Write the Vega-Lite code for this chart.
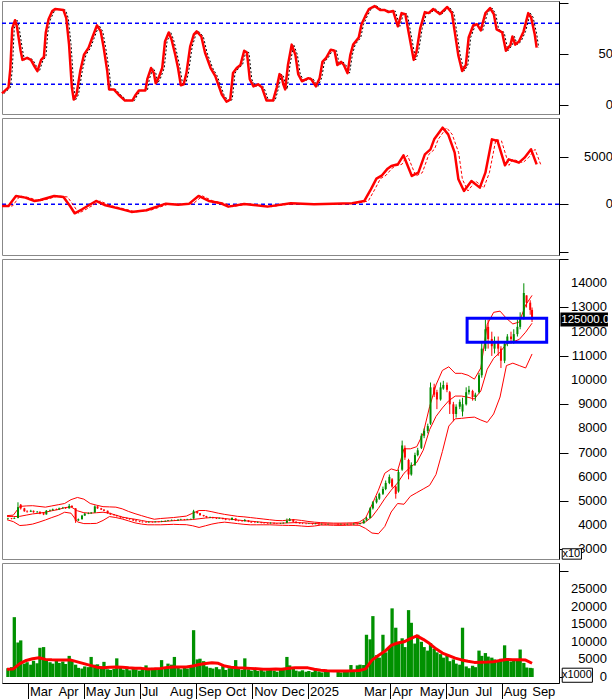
{
"$schema":"https://vega.github.io/schema/vega-lite/v6.json",
"padding":0,
"background":"white",
"spacing":4,
"bounds":"flush",
"config":{"view":{"stroke":"#888888","strokeWidth":1},"axis":{"labels":false,"domainColor":"#000000","tickColor":"#000000","grid":false},"text":{"font":"Liberation Sans","fontSize":13,"color":"#000000"}},
"datasets":{
"osc":[{"d":"2024-02-07","k":11},{"d":"2024-02-14","k":17},{"d":"2024-02-16","k":36},{"d":"2024-02-18","k":75},{"d":"2024-02-21","k":83},{"d":"2024-02-23","k":77},{"d":"2024-02-27","k":53},{"d":"2024-02-29","k":44},{"d":"2024-03-05","k":46},{"d":"2024-03-09","k":44},{"d":"2024-03-12","k":39},{"d":"2024-03-16","k":33},{"d":"2024-03-20","k":44},{"d":"2024-03-23","k":47},{"d":"2024-03-25","k":71},{"d":"2024-03-28","k":84},{"d":"2024-04-01","k":92},{"d":"2024-04-04","k":94},{"d":"2024-04-13","k":93},{"d":"2024-04-16","k":85},{"d":"2024-04-19","k":59},{"d":"2024-04-22","k":17},{"d":"2024-04-24","k":5},{"d":"2024-04-27","k":10},{"d":"2024-05-01","k":33},{"d":"2024-05-05","k":49},{"d":"2024-05-10","k":56},{"d":"2024-05-14","k":66},{"d":"2024-05-19","k":78},{"d":"2024-05-23","k":72},{"d":"2024-05-26","k":57},{"d":"2024-05-30","k":33},{"d":"2024-06-01","k":15},{"d":"2024-06-06","k":15},{"d":"2024-06-11","k":10},{"d":"2024-06-18","k":4},{"d":"2024-06-26","k":4},{"d":"2024-06-29","k":9},{"d":"2024-07-03","k":14},{"d":"2024-07-10","k":14},{"d":"2024-07-12","k":25},{"d":"2024-07-16","k":36},{"d":"2024-07-19","k":31},{"d":"2024-07-21","k":21},{"d":"2024-07-24","k":26},{"d":"2024-07-28","k":36},{"d":"2024-07-31","k":62},{"d":"2024-08-04","k":71},{"d":"2024-08-07","k":64},{"d":"2024-08-11","k":49},{"d":"2024-08-14","k":36},{"d":"2024-08-17","k":19},{"d":"2024-08-20","k":20},{"d":"2024-08-23","k":31},{"d":"2024-08-27","k":57},{"d":"2024-08-31","k":69},{"d":"2024-09-03","k":72},{"d":"2024-09-08","k":67},{"d":"2024-09-12","k":51},{"d":"2024-09-18","k":36},{"d":"2024-09-23","k":28},{"d":"2024-09-30","k":10},{"d":"2024-10-05","k":3},{"d":"2024-10-09","k":5},{"d":"2024-10-12","k":31},{"d":"2024-10-16","k":36},{"d":"2024-10-20","k":39},{"d":"2024-10-24","k":53},{"d":"2024-10-27","k":51},{"d":"2024-10-30","k":25},{"d":"2024-11-03","k":18},{"d":"2024-11-08","k":20},{"d":"2024-11-12","k":17},{"d":"2024-11-17","k":4},{"d":"2024-11-24","k":4},{"d":"2024-11-28","k":17},{"d":"2024-12-01","k":30},{"d":"2024-12-03","k":28},{"d":"2024-12-05","k":20},{"d":"2024-12-07","k":15},{"d":"2024-12-10","k":39},{"d":"2024-12-14","k":59},{"d":"2024-12-18","k":49},{"d":"2024-12-21","k":30},{"d":"2024-12-25","k":23},{"d":"2025-01-01","k":26},{"d":"2025-01-04","k":25},{"d":"2025-01-09","k":18},{"d":"2025-01-13","k":26},{"d":"2025-01-16","k":42},{"d":"2025-01-20","k":46},{"d":"2025-01-25","k":54},{"d":"2025-01-29","k":53},{"d":"2025-02-01","k":39},{"d":"2025-02-05","k":42},{"d":"2025-02-08","k":39},{"d":"2025-02-12","k":31},{"d":"2025-02-15","k":49},{"d":"2025-02-18","k":59},{"d":"2025-02-24","k":66},{"d":"2025-02-27","k":79},{"d":"2025-03-03","k":87},{"d":"2025-03-07","k":94},{"d":"2025-03-13","k":97},{"d":"2025-03-19","k":93},{"d":"2025-03-24","k":93},{"d":"2025-03-28","k":91},{"d":"2025-04-02","k":92},{"d":"2025-04-07","k":77},{"d":"2025-04-11","k":90},{"d":"2025-04-15","k":89},{"d":"2025-04-19","k":69},{"d":"2025-04-24","k":44},{"d":"2025-04-27","k":52},{"d":"2025-05-01","k":75},{"d":"2025-05-06","k":91},{"d":"2025-05-10","k":90},{"d":"2025-05-15","k":94},{"d":"2025-05-22","k":89},{"d":"2025-05-30","k":96},{"d":"2025-06-04","k":90},{"d":"2025-06-07","k":72},{"d":"2025-06-11","k":48},{"d":"2025-06-15","k":33},{"d":"2025-06-19","k":39},{"d":"2025-06-22","k":66},{"d":"2025-06-27","k":78},{"d":"2025-07-01","k":79},{"d":"2025-07-05","k":73},{"d":"2025-07-10","k":90},{"d":"2025-07-15","k":95},{"d":"2025-07-19","k":89},{"d":"2025-07-22","k":74},{"d":"2025-07-28","k":71},{"d":"2025-08-01","k":53},{"d":"2025-08-06","k":59},{"d":"2025-08-08","k":67},{"d":"2025-08-11","k":59},{"d":"2025-08-15","k":62},{"d":"2025-08-20","k":72},{"d":"2025-08-25","k":90},{"d":"2025-08-28","k":86},{"d":"2025-09-01","k":69},{"d":"2025-09-03","k":56}],
"macd":[{"d":"2024-02-07","m":-175},{"d":"2024-02-14","m":-175},{"d":"2024-02-22","m":875},{"d":"2024-03-03","m":700},{"d":"2024-03-13","m":350},{"d":"2024-03-19","m":455},{"d":"2024-04-03","m":875},{"d":"2024-04-13","m":770},{"d":"2024-04-20","m":-175},{"d":"2024-04-25","m":-945},{"d":"2024-05-03","m":-525},{"d":"2024-05-18","m":350},{"d":"2024-05-28","m":-100},{"d":"2024-06-12","m":-455},{"d":"2024-06-25","m":-800},{"d":"2024-07-11","m":-630},{"d":"2024-08-01","m":70},{"d":"2024-08-14","m":-35},{"d":"2024-08-26","m":70},{"d":"2024-09-05","m":875},{"d":"2024-09-16","m":350},{"d":"2024-09-29","m":100},{"d":"2024-10-07","m":-245},{"d":"2024-10-24","m":35},{"d":"2024-11-18","m":-245},{"d":"2024-12-13","m":100},{"d":"2025-01-07","m":0},{"d":"2025-02-17","m":100},{"d":"2025-03-02","m":350},{"d":"2025-03-09","m":1575},{"d":"2025-03-15","m":2700},{"d":"2025-03-21","m":3045},{"d":"2025-03-27","m":3745},{"d":"2025-03-31","m":4025},{"d":"2025-04-07","m":4200},{"d":"2025-04-13","m":5145},{"d":"2025-04-22","m":2975},{"d":"2025-04-29","m":3325},{"d":"2025-05-06","m":5250},{"d":"2025-05-12","m":5775},{"d":"2025-05-16","m":6825},{"d":"2025-05-25","m":8050},{"d":"2025-05-31","m":7350},{"d":"2025-06-07","m":5425},{"d":"2025-06-11","m":2625},{"d":"2025-06-17","m":1400},{"d":"2025-06-25","m":2450},{"d":"2025-07-04","m":1750},{"d":"2025-07-10","m":3325},{"d":"2025-07-17","m":6825},{"d":"2025-07-23","m":6650},{"d":"2025-07-31","m":4095},{"d":"2025-08-04","m":4725},{"d":"2025-08-15","m":4375},{"d":"2025-08-21","m":4900},{"d":"2025-08-28","m":5775},{"d":"2025-09-03","m":4200}],
"bb":[{"d":"2024-02-07","u":4400,"m":4360,"l":4230},{"d":"2024-02-14","u":4420,"m":4360,"l":4150},{"d":"2024-02-21","u":4780,"m":4370,"l":3990},{"d":"2024-02-28","u":4800,"m":4420,"l":4010},{"d":"2024-03-06","u":4810,"m":4470,"l":4050},{"d":"2024-03-13","u":4780,"m":4500,"l":4130},{"d":"2024-03-20","u":4750,"m":4540,"l":4220},{"d":"2024-03-27","u":4800,"m":4600,"l":4320},{"d":"2024-04-03","u":4850,"m":4650,"l":4410},{"d":"2024-04-10","u":4900,"m":4730,"l":4540},{"d":"2024-04-17","u":5060,"m":4760,"l":4500},{"d":"2024-04-24","u":5150,"m":4600,"l":4140},{"d":"2024-05-01","u":5080,"m":4520,"l":4070},{"d":"2024-05-08","u":4900,"m":4500,"l":4070},{"d":"2024-05-15","u":4830,"m":4520,"l":4080},{"d":"2024-05-22","u":4770,"m":4540,"l":4200},{"d":"2024-05-29","u":4760,"m":4500,"l":4360},{"d":"2024-06-05","u":4750,"m":4420,"l":4320},{"d":"2024-06-12","u":4680,"m":4340,"l":4260},{"d":"2024-06-19","u":4570,"m":4290,"l":4180},{"d":"2024-06-26","u":4480,"m":4250,"l":4100},{"d":"2024-07-03","u":4400,"m":4200,"l":4050},{"d":"2024-07-10","u":4320,"m":4150,"l":4020},{"d":"2024-07-17","u":4250,"m":4140,"l":4020},{"d":"2024-07-24","u":4280,"m":4150,"l":4020},{"d":"2024-07-31","u":4300,"m":4170,"l":4030},{"d":"2024-08-07","u":4320,"m":4190,"l":4040},{"d":"2024-08-14","u":4350,"m":4210,"l":4030},{"d":"2024-08-21","u":4380,"m":4220,"l":4025},{"d":"2024-08-28","u":4500,"m":4240,"l":3980},{"d":"2024-09-04","u":4610,"m":4270,"l":3910},{"d":"2024-09-11","u":4610,"m":4300,"l":3980},{"d":"2024-09-18","u":4560,"m":4320,"l":4050},{"d":"2024-09-25","u":4500,"m":4310,"l":4100},{"d":"2024-10-02","u":4450,"m":4280,"l":4130},{"d":"2024-10-09","u":4410,"m":4250,"l":4100},{"d":"2024-10-16","u":4370,"m":4220,"l":4070},{"d":"2024-10-23","u":4350,"m":4190,"l":4040},{"d":"2024-10-30","u":4320,"m":4170,"l":4020},{"d":"2024-11-06","u":4290,"m":4150,"l":4020},{"d":"2024-11-13","u":4260,"m":4120,"l":4020},{"d":"2024-11-20","u":4230,"m":4100,"l":4020},{"d":"2024-11-27","u":4200,"m":4090,"l":4010},{"d":"2024-12-04","u":4190,"m":4090,"l":4000},{"d":"2024-12-11","u":4220,"m":4100,"l":3995},{"d":"2024-12-18","u":4230,"m":4110,"l":3990},{"d":"2024-12-25","u":4200,"m":4110,"l":3970},{"d":"2025-01-01","u":4160,"m":4090,"l":3950},{"d":"2025-01-08","u":4130,"m":4075,"l":3970},{"d":"2025-01-15","u":4110,"m":4060,"l":4010},{"d":"2025-01-22","u":4100,"m":4055,"l":4010},{"d":"2025-01-29","u":4090,"m":4050,"l":4000},{"d":"2025-02-05","u":4090,"m":4047,"l":3995},{"d":"2025-02-12","u":4095,"m":4050,"l":4000},{"d":"2025-02-19","u":4100,"m":4055,"l":4005},{"d":"2025-02-26","u":4130,"m":4070,"l":4000},{"d":"2025-03-05","u":4300,"m":4140,"l":3870},{"d":"2025-03-12","u":4850,"m":4350,"l":3680},{"d":"2025-03-19","u":5450,"m":4700,"l":3650},{"d":"2025-03-26","u":6150,"m":5100,"l":3950},{"d":"2025-04-02","u":6330,"m":5450,"l":4550},{"d":"2025-04-09","u":6250,"m":5750,"l":4900},{"d":"2025-04-16","u":7160,"m":6150,"l":4870},{"d":"2025-04-23","u":7160,"m":6400,"l":5200},{"d":"2025-04-30","u":7250,"m":6600,"l":5350},{"d":"2025-05-07","u":7800,"m":7100,"l":5500},{"d":"2025-05-14","u":8900,"m":7950,"l":5650},{"d":"2025-05-21","u":9800,"m":8500,"l":6100},{"d":"2025-05-28","u":10400,"m":8850,"l":7050},{"d":"2025-06-04","u":10550,"m":9150,"l":8100},{"d":"2025-06-11","u":10280,"m":9340,"l":8400},{"d":"2025-06-18","u":10280,"m":9340,"l":8420},{"d":"2025-06-25","u":10200,"m":9290,"l":8450},{"d":"2025-07-02","u":10040,"m":9220,"l":8470},{"d":"2025-07-09","u":10500,"m":9550,"l":8350},{"d":"2025-07-16","u":12300,"m":10450,"l":8250},{"d":"2025-07-23","u":12800,"m":10900,"l":8600},{"d":"2025-07-30","u":12850,"m":11150,"l":9300},{"d":"2025-08-06","u":12550,"m":11500,"l":10600},{"d":"2025-08-13","u":12320,"m":11580,"l":10700},{"d":"2025-08-20","u":12400,"m":11680,"l":10600},{"d":"2025-08-27","u":13100,"m":11980,"l":10500},{"d":"2025-09-03","u":13500,"m":12350,"l":11080}],
"cdl":[{"d":"2024-02-08","o":4260,"h":4310,"l":4240,"c":4280,"v":2500},{"d":"2024-02-12","o":4290,"h":4300,"l":4250,"c":4270,"v":2800},{"d":"2024-02-15","o":4270,"h":4330,"l":4260,"c":4300,"v":17000},{"d":"2024-02-19","o":4300,"h":4950,"l":4290,"c":4750,"v":9800},{"d":"2024-02-22","o":4850,"h":4880,"l":4650,"c":4700,"v":10400},{"d":"2024-02-26","o":4700,"h":4720,"l":4560,"c":4580,"v":3800},{"d":"2024-02-29","o":4580,"h":4620,"l":4520,"c":4560,"v":4200},{"d":"2024-03-04","o":4560,"h":4640,"l":4550,"c":4600,"v":3500},{"d":"2024-03-07","o":4600,"h":4610,"l":4520,"c":4540,"v":4600},{"d":"2024-03-11","o":4540,"h":4590,"l":4520,"c":4560,"v":3900},{"d":"2024-03-14","o":4560,"h":4570,"l":4460,"c":4480,"v":8300},{"d":"2024-03-18","o":4500,"h":4520,"l":4420,"c":4450,"v":8500},{"d":"2024-03-21","o":4450,"h":4630,"l":4440,"c":4600,"v":4800},{"d":"2024-03-25","o":4600,"h":4650,"l":4580,"c":4620,"v":4200},{"d":"2024-03-28","o":4620,"h":4690,"l":4610,"c":4660,"v":3800},{"d":"2024-04-01","o":4670,"h":4690,"l":4630,"c":4650,"v":4600},{"d":"2024-04-04","o":4650,"h":4730,"l":4640,"c":4700,"v":4000},{"d":"2024-04-08","o":4700,"h":4760,"l":4690,"c":4720,"v":4400},{"d":"2024-04-11","o":4730,"h":4750,"l":4680,"c":4700,"v":3700},{"d":"2024-04-15","o":4700,"h":4880,"l":4690,"c":4800,"v":6000},{"d":"2024-04-18","o":4800,"h":4830,"l":4730,"c":4750,"v":4800},{"d":"2024-04-22","o":4700,"h":4710,"l":4100,"c":4200,"v":3500},{"d":"2024-04-25","o":4200,"h":4280,"l":4180,"c":4250,"v":2600},{"d":"2024-04-29","o":4250,"h":4430,"l":4240,"c":4400,"v":2400},{"d":"2024-05-02","o":4400,"h":4510,"l":4390,"c":4480,"v":3000},{"d":"2024-05-06","o":4480,"h":4530,"l":4460,"c":4500,"v":2800},{"d":"2024-05-09","o":4500,"h":4550,"l":4470,"c":4520,"v":5700},{"d":"2024-05-13","o":4530,"h":4820,"l":4520,"c":4780,"v":3500},{"d":"2024-05-16","o":4780,"h":4790,"l":4680,"c":4700,"v":3600},{"d":"2024-05-20","o":4700,"h":4720,"l":4630,"c":4650,"v":3000},{"d":"2024-05-23","o":4650,"h":4660,"l":4580,"c":4600,"v":4300},{"d":"2024-05-27","o":4600,"h":4610,"l":4480,"c":4500,"v":2200},{"d":"2024-05-30","o":4500,"h":4520,"l":4430,"c":4450,"v":2000},{"d":"2024-06-03","o":4450,"h":4460,"l":4400,"c":4420,"v":2300},{"d":"2024-06-06","o":4420,"h":4430,"l":4360,"c":4380,"v":5300},{"d":"2024-06-10","o":4380,"h":4390,"l":4310,"c":4330,"v":2600},{"d":"2024-06-13","o":4330,"h":4340,"l":4280,"c":4300,"v":2100},{"d":"2024-06-17","o":4300,"h":4320,"l":4260,"c":4280,"v":2500},{"d":"2024-06-20","o":4280,"h":4290,"l":4230,"c":4250,"v":1900},{"d":"2024-06-24","o":4250,"h":4260,"l":4180,"c":4200,"v":2800},{"d":"2024-06-27","o":4200,"h":4210,"l":4150,"c":4170,"v":2200},{"d":"2024-07-01","o":4170,"h":4180,"l":4130,"c":4150,"v":1800},{"d":"2024-07-04","o":4150,"h":4160,"l":4110,"c":4130,"v":2400},{"d":"2024-07-08","o":4130,"h":4140,"l":4100,"c":4120,"v":3300},{"d":"2024-07-11","o":4120,"h":4160,"l":4110,"c":4140,"v":2000},{"d":"2024-07-15","o":4140,"h":4150,"l":4110,"c":4130,"v":2600},{"d":"2024-07-18","o":4130,"h":4170,"l":4120,"c":4150,"v":2200},{"d":"2024-07-22","o":4150,"h":4160,"l":4120,"c":4140,"v":2500},{"d":"2024-07-25","o":4140,"h":4190,"l":4130,"c":4160,"v":4800},{"d":"2024-07-29","o":4160,"h":4200,"l":4150,"c":4180,"v":2300},{"d":"2024-08-01","o":4180,"h":4220,"l":4170,"c":4200,"v":3800},{"d":"2024-08-05","o":4200,"h":4240,"l":4190,"c":4220,"v":3500},{"d":"2024-08-08","o":4220,"h":4230,"l":4180,"c":4200,"v":5700},{"d":"2024-08-12","o":4200,"h":4250,"l":4190,"c":4230,"v":2600},{"d":"2024-08-15","o":4230,"h":4270,"l":4220,"c":4250,"v":2200},{"d":"2024-08-19","o":4250,"h":4260,"l":4210,"c":4230,"v":2800},{"d":"2024-08-22","o":4230,"h":4270,"l":4220,"c":4250,"v":2400},{"d":"2024-08-26","o":4250,"h":4280,"l":4240,"c":4260,"v":3000},{"d":"2024-08-29","o":4280,"h":4640,"l":4270,"c":4580,"v":13300},{"d":"2024-09-02","o":4580,"h":4600,"l":4480,"c":4500,"v":5000},{"d":"2024-09-05","o":4500,"h":4510,"l":4400,"c":4420,"v":5200},{"d":"2024-09-09","o":4420,"h":4430,"l":4360,"c":4380,"v":4500},{"d":"2024-09-12","o":4380,"h":4390,"l":4310,"c":4330,"v":3000},{"d":"2024-09-16","o":4320,"h":4360,"l":4310,"c":4340,"v":2600},{"d":"2024-09-19","o":4340,"h":4350,"l":4280,"c":4300,"v":2400},{"d":"2024-09-23","o":4300,"h":4310,"l":4260,"c":4280,"v":2800},{"d":"2024-09-26","o":4280,"h":4320,"l":4270,"c":4300,"v":2200},{"d":"2024-09-30","o":4300,"h":4310,"l":4240,"c":4260,"v":3100},{"d":"2024-10-03","o":4260,"h":4270,"l":4210,"c":4230,"v":2000},{"d":"2024-10-07","o":4230,"h":4240,"l":4200,"c":4220,"v":2500},{"d":"2024-10-10","o":4220,"h":4330,"l":4210,"c":4300,"v":2800},{"d":"2024-10-14","o":4280,"h":4290,"l":4180,"c":4200,"v":4800},{"d":"2024-10-17","o":4200,"h":4210,"l":4160,"c":4180,"v":2300},{"d":"2024-10-21","o":4180,"h":4190,"l":4150,"c":4170,"v":2000},{"d":"2024-10-24","o":4170,"h":4260,"l":4160,"c":4220,"v":5300},{"d":"2024-10-28","o":4200,"h":4210,"l":4130,"c":4150,"v":2200},{"d":"2024-10-31","o":4150,"h":4160,"l":4100,"c":4120,"v":1800},{"d":"2024-11-04","o":4120,"h":4130,"l":4090,"c":4110,"v":2000},{"d":"2024-11-07","o":4110,"h":4150,"l":4100,"c":4130,"v":1700},{"d":"2024-11-11","o":4130,"h":4140,"l":4080,"c":4100,"v":2300},{"d":"2024-11-14","o":4100,"h":4110,"l":4070,"c":4090,"v":1600},{"d":"2024-11-18","o":4090,"h":4100,"l":4060,"c":4080,"v":1900},{"d":"2024-11-21","o":4080,"h":4120,"l":4070,"c":4100,"v":2100},{"d":"2024-11-25","o":4100,"h":4110,"l":4060,"c":4080,"v":1800},{"d":"2024-11-28","o":4080,"h":4090,"l":4050,"c":4070,"v":1500},{"d":"2024-12-02","o":4070,"h":4100,"l":4060,"c":4080,"v":2100},{"d":"2024-12-05","o":4080,"h":4120,"l":4070,"c":4100,"v":2600},{"d":"2024-12-09","o":4100,"h":4280,"l":4090,"c":4180,"v":5700},{"d":"2024-12-12","o":4180,"h":4300,"l":4170,"c":4250,"v":3300},{"d":"2024-12-16","o":4250,"h":4260,"l":4130,"c":4150,"v":2600},{"d":"2024-12-19","o":4150,"h":4160,"l":4080,"c":4100,"v":1800},{"d":"2024-12-23","o":4100,"h":4110,"l":4060,"c":4080,"v":1600},{"d":"2024-12-26","o":4080,"h":4090,"l":4050,"c":4070,"v":1900},{"d":"2024-12-30","o":4070,"h":4080,"l":4040,"c":4060,"v":1500},{"d":"2025-01-02","o":4060,"h":4090,"l":4050,"c":4070,"v":1700},{"d":"2025-01-06","o":4070,"h":4080,"l":4030,"c":4050,"v":1400},{"d":"2025-01-09","o":4050,"h":4080,"l":4040,"c":4060,"v":2000},{"d":"2025-01-13","o":4060,"h":4070,"l":4030,"c":4040,"v":1600},{"d":"2025-01-16","o":4040,"h":4070,"l":4030,"c":4050,"v":1300},{"d":"2025-01-20","o":4050,"h":4060,"l":4020,"c":4040,"v":1500},{"d":"2025-01-23","o":4040,"h":4070,"l":4030,"c":4050,"v":1800},{"d":"2025-02-03","o":4060,"h":4070,"l":4020,"c":4040,"v":1600},{"d":"2025-02-06","o":4040,"h":4070,"l":4030,"c":4050,"v":1300},{"d":"2025-02-10","o":4050,"h":4060,"l":4020,"c":4040,"v":1500},{"d":"2025-02-13","o":4040,"h":4070,"l":4030,"c":4050,"v":1900},{"d":"2025-02-17","o":4050,"h":4070,"l":4030,"c":4040,"v":3400},{"d":"2025-02-20","o":4040,"h":4080,"l":4030,"c":4060,"v":1800},{"d":"2025-02-24","o":4060,"h":4070,"l":4030,"c":4050,"v":3300},{"d":"2025-02-27","o":4050,"h":4100,"l":4040,"c":4080,"v":3500},{"d":"2025-03-03","o":4080,"h":4230,"l":4070,"c":4200,"v":3400},{"d":"2025-03-06","o":4200,"h":4350,"l":4190,"c":4300,"v":12000},{"d":"2025-03-10","o":4300,"h":4750,"l":4290,"c":4700,"v":10700},{"d":"2025-03-13","o":4700,"h":5000,"l":4650,"c":4950,"v":17300},{"d":"2025-03-17","o":4950,"h":5200,"l":4900,"c":5100,"v":6200},{"d":"2025-03-20","o":5100,"h":5350,"l":5050,"c":5300,"v":5500},{"d":"2025-03-24","o":5300,"h":5600,"l":5250,"c":5500,"v":12000},{"d":"2025-03-27","o":5500,"h":5850,"l":5450,"c":5750,"v":7000},{"d":"2025-03-31","o":5750,"h":6100,"l":5700,"c":6000,"v":8300},{"d":"2025-04-03","o":5900,"h":5950,"l":5550,"c":5600,"v":19500},{"d":"2025-04-07","o":5600,"h":5650,"l":5100,"c":5300,"v":14000},{"d":"2025-04-10","o":5400,"h":6300,"l":5350,"c":6200,"v":9500},{"d":"2025-04-14","o":6300,"h":7500,"l":6250,"c":7300,"v":11000},{"d":"2025-04-17","o":7200,"h":7300,"l":6700,"c":6800,"v":8500},{"d":"2025-04-21","o":6700,"h":6750,"l":5900,"c":6100,"v":19000},{"d":"2025-04-24","o":6100,"h":6600,"l":6050,"c":6500,"v":15400},{"d":"2025-04-28","o":6500,"h":7000,"l":6450,"c":6900,"v":9500},{"d":"2025-05-01","o":6900,"h":7200,"l":6850,"c":7100,"v":12000},{"d":"2025-05-05","o":7200,"h":7800,"l":7150,"c":7700,"v":10000},{"d":"2025-05-08","o":7700,"h":8000,"l":7600,"c":7900,"v":8500},{"d":"2025-05-12","o":7900,"h":8200,"l":7800,"c":8100,"v":7500},{"d":"2025-05-15","o":8200,"h":9900,"l":8150,"c":9700,"v":9600},{"d":"2025-05-19","o":9700,"h":9850,"l":9300,"c":9400,"v":8000},{"d":"2025-05-22","o":9500,"h":9600,"l":8800,"c":9200,"v":7000},{"d":"2025-05-26","o":9200,"h":9900,"l":9150,"c":9700,"v":6500},{"d":"2025-05-29","o":9650,"h":9970,"l":9600,"c":9800,"v":5500},{"d":"2025-06-02","o":9800,"h":9900,"l":9500,"c":9600,"v":6000},{"d":"2025-06-05","o":9500,"h":9550,"l":8600,"c":9000,"v":4500},{"d":"2025-06-09","o":9000,"h":9100,"l":8300,"c":8600,"v":5000},{"d":"2025-06-12","o":8600,"h":9000,"l":8450,"c":8900,"v":3800},{"d":"2025-06-16","o":8900,"h":9200,"l":8800,"c":9100,"v":3500},{"d":"2025-06-19","o":8700,"h":9270,"l":8500,"c":9000,"v":14000},{"d":"2025-06-23","o":9000,"h":9700,"l":8950,"c":9500,"v":3000},{"d":"2025-06-26","o":9500,"h":9760,"l":9400,"c":9600,"v":2500},{"d":"2025-06-30","o":9550,"h":9600,"l":9150,"c":9300,"v":3200},{"d":"2025-07-03","o":9300,"h":9480,"l":9140,"c":9400,"v":2800},{"d":"2025-07-07","o":9500,"h":10300,"l":9450,"c":10200,"v":7500},{"d":"2025-07-10","o":10200,"h":11600,"l":10100,"c":11300,"v":6000},{"d":"2025-07-14","o":11300,"h":12500,"l":11200,"c":12100,"v":6800},{"d":"2025-07-17","o":12200,"h":12500,"l":11300,"c":11700,"v":5800},{"d":"2025-07-21","o":11700,"h":12000,"l":11000,"c":11400,"v":5500},{"d":"2025-07-24","o":11300,"h":11800,"l":11100,"c":11600,"v":5000},{"d":"2025-07-28","o":11600,"h":11800,"l":11000,"c":11300,"v":4800},{"d":"2025-07-31","o":11300,"h":11400,"l":10500,"c":10800,"v":5200},{"d":"2025-08-04","o":10800,"h":11600,"l":10700,"c":11500,"v":9000},{"d":"2025-08-07","o":11500,"h":11900,"l":11400,"c":11800,"v":4600},{"d":"2025-08-11","o":11800,"h":12000,"l":11500,"c":11700,"v":4400},{"d":"2025-08-14","o":11600,"h":12100,"l":11500,"c":11900,"v":4900},{"d":"2025-08-18","o":11900,"h":12500,"l":11800,"c":12200,"v":5000},{"d":"2025-08-21","o":12200,"h":12800,"l":12100,"c":12600,"v":7800},{"d":"2025-08-25","o":12600,"h":14000,"l":12500,"c":13600,"v":4000},{"d":"2025-08-28","o":13500,"h":13500,"l":13000,"c":13200,"v":2700},{"d":"2025-09-01","o":13200,"h":13300,"l":12700,"c":12900,"v":2600},{"d":"2025-09-03","o":12900,"h":13000,"l":12400,"c":12500,"v":2500}],
"vma":[{"d":"2024-02-07","a":2200},{"d":"2024-02-14","a":2300},{"d":"2024-02-21","a":3800},{"d":"2024-02-28","a":4700},{"d":"2024-03-06","a":5200},{"d":"2024-03-13","a":5450},{"d":"2024-03-20","a":5000},{"d":"2024-03-27","a":4900},{"d":"2024-04-03","a":4850},{"d":"2024-04-10","a":4850},{"d":"2024-04-17","a":4800},{"d":"2024-04-24","a":4300},{"d":"2024-05-01","a":3800},{"d":"2024-05-08","a":3300},{"d":"2024-05-15","a":2800},{"d":"2024-05-22","a":2650},{"d":"2024-05-29","a":2750},{"d":"2024-06-05","a":2850},{"d":"2024-06-12","a":2750},{"d":"2024-06-19","a":2600},{"d":"2024-06-26","a":2500},{"d":"2024-07-03","a":2450},{"d":"2024-07-10","a":2300},{"d":"2024-07-17","a":2350},{"d":"2024-07-24","a":2450},{"d":"2024-07-31","a":2700},{"d":"2024-08-07","a":2850},{"d":"2024-08-14","a":2850},{"d":"2024-08-21","a":2850},{"d":"2024-08-28","a":3100},{"d":"2024-09-04","a":3550},{"d":"2024-09-11","a":3850},{"d":"2024-09-18","a":4050},{"d":"2024-09-25","a":3900},{"d":"2024-10-02","a":3100},{"d":"2024-10-09","a":2800},{"d":"2024-10-16","a":2650},{"d":"2024-10-23","a":2550},{"d":"2024-10-30","a":2450},{"d":"2024-11-06","a":2350},{"d":"2024-11-13","a":2200},{"d":"2024-11-20","a":2200},{"d":"2024-11-27","a":2250},{"d":"2024-12-04","a":2200},{"d":"2024-12-11","a":2500},{"d":"2024-12-18","a":2650},{"d":"2024-12-25","a":2650},{"d":"2025-01-01","a":2600},{"d":"2025-01-08","a":2200},{"d":"2025-01-15","a":1950},{"d":"2025-01-22","a":1750},{"d":"2025-01-29","a":1700},{"d":"2025-02-05","a":1700},{"d":"2025-02-12","a":1700},{"d":"2025-02-19","a":1750},{"d":"2025-02-26","a":1850},{"d":"2025-03-05","a":2300},{"d":"2025-03-12","a":4800},{"d":"2025-03-19","a":6100},{"d":"2025-03-26","a":7300},{"d":"2025-04-02","a":9000},{"d":"2025-04-09","a":9650},{"d":"2025-04-16","a":10000},{"d":"2025-04-23","a":10900},{"d":"2025-04-30","a":11700},{"d":"2025-05-07","a":10700},{"d":"2025-05-14","a":9500},{"d":"2025-05-21","a":8000},{"d":"2025-05-28","a":6800},{"d":"2025-06-04","a":6100},{"d":"2025-06-11","a":5350},{"d":"2025-06-18","a":4850},{"d":"2025-06-25","a":4450},{"d":"2025-07-02","a":4150},{"d":"2025-07-09","a":4200},{"d":"2025-07-16","a":4250},{"d":"2025-07-23","a":4350},{"d":"2025-07-30","a":4700},{"d":"2025-08-06","a":5000},{"d":"2025-08-13","a":4900},{"d":"2025-08-20","a":4900},{"d":"2025-08-27","a":4800},{"d":"2025-09-03","a":3900}],
"months":[{"d":"2024-03-01","t":"Mar"},{"d":"2024-04-01","t":"Apr"},{"d":"2024-05-01","t":"May"},{"d":"2024-06-01","t":"Jun"},{"d":"2024-07-01","t":"Jul"},{"d":"2024-08-01","t":"Aug"},{"d":"2024-09-01","t":"Sep"},{"d":"2024-10-01","t":"Oct"},{"d":"2024-11-01","t":"Nov"},{"d":"2024-12-01","t":"Dec"},{"d":"2025-01-01","t":"2025"},{"d":"2025-03-01","t":"Mar"},{"d":"2025-04-01","t":"Apr"},{"d":"2025-05-01","t":"May"},{"d":"2025-06-01","t":"Jun"},{"d":"2025-07-01","t":"Jul"},{"d":"2025-08-01","t":"Aug"},{"d":"2025-09-01","t":"Sep"}]
},
"vconcat":[
{"width":557,"height":113,"layer":[
 {"data":{"values":[{"r":80},{"r":20}]},"mark":{"type":"rule","color":"#0000ff","strokeWidth":1.5,"strokeDash":[4,3]},"encoding":{"y":{"field":"r","type":"quantitative","scale":{"domain":[-9.2,101.9],"nice":false,"zero":false},"axis":{"orient":"right","title":null,"values":[0,50,100],"tickSize":9,"labels":false}}}},
 {"data":{"name":"osc"},"mark":{"type":"line","color":"#000000","strokeWidth":1,"strokeDash":[2,2],"xOffset":2,"strokeJoin":"round"},"encoding":{"x":{"field":"d","type":"temporal","scale":{"type":"utc","domain":[{"year":2024,"month":2,"date":7,"utc":true},{"year":2025,"month":9,"date":27,"utc":true}]},"axis":null},"y":{"field":"k","type":"quantitative"}}},
 {"data":{"name":"osc"},"mark":{"type":"line","color":"#ff0000","strokeWidth":2.5,"strokeJoin":"round"},"encoding":{"x":{"field":"d","type":"temporal","axis":null},"y":{"field":"k","type":"quantitative"}}},
 {"data":{"values":[{"p":0},{"p":50}]},"mark":{"type":"text","align":"right","baseline":"middle"},"encoding":{"x":{"datum":{"year":2025,"month":11,"date":24,"utc":true},"type":"temporal","axis":null},"y":{"field":"p","type":"quantitative"},"text":{"field":"p","type":"quantitative","format":"d"}}}
]},
{"width":557,"height":137,"layer":[
 {"data":{"values":[{"r":0}]},"mark":{"type":"rule","color":"#0000ff","strokeWidth":1.5,"strokeDash":[4,3]},"encoding":{"y":{"field":"r","type":"quantitative","scale":{"domain":[-5326,9065],"nice":false,"zero":false},"axis":{"orient":"right","title":null,"values":[-5000,-2500,0,2500,5000,7500],"tickSize":{"condition":{"test":"datum.value % 5000 == 0","value":9},"value":5},"labels":false}}}},
 {"data":{"name":"macd"},"mark":{"type":"line","color":"#ff0000","strokeWidth":1,"strokeDash":[3,2],"xOffset":4,"strokeJoin":"round"},"encoding":{"x":{"field":"d","type":"temporal","scale":{"type":"utc","domain":[{"year":2024,"month":2,"date":7,"utc":true},{"year":2025,"month":9,"date":27,"utc":true}]},"axis":null},"y":{"field":"m","type":"quantitative"}}},
 {"data":{"name":"macd"},"mark":{"type":"line","color":"#ff0000","strokeWidth":2.5,"strokeJoin":"round"},"encoding":{"x":{"field":"d","type":"temporal","axis":null},"y":{"field":"m","type":"quantitative"}}},
 {"data":{"values":[{"p":0},{"p":5000}]},"mark":{"type":"text","align":"right","baseline":"middle"},"encoding":{"x":{"datum":{"year":2025,"month":11,"date":24,"utc":true},"type":"temporal","axis":null},"y":{"field":"p","type":"quantitative"},"text":{"field":"p","type":"quantitative","format":"d"}}}
]},
{"width":557,"height":300,"layer":[
 {"data":{"name":"bb"},"mark":{"type":"line","color":"#ff0000","strokeWidth":1},"encoding":{"x":{"field":"d","type":"temporal","scale":{"type":"utc","domain":[{"year":2024,"month":2,"date":7,"utc":true},{"year":2025,"month":9,"date":27,"utc":true}]},"axis":null},"y":{"field":"u","type":"quantitative","scale":{"domain":[2607,15004],"nice":false,"zero":false},"axis":{"orient":"right","title":null,"values":[3000,3500,4000,4500,5000,5500,6000,6500,7000,7500,8000,8500,9000,9500,10000,10500,11000,11500,12000,12500,13000,13500,14000,14500,15000],"tickSize":{"condition":{"test":"datum.value % 1000 == 0","value":9},"value":5},"labels":false}}}},
 {"data":{"name":"bb"},"mark":{"type":"line","color":"#ff0000","strokeWidth":1},"encoding":{"x":{"field":"d","type":"temporal","axis":null},"y":{"field":"m","type":"quantitative"}}},
 {"data":{"name":"bb"},"mark":{"type":"line","color":"#ff0000","strokeWidth":1},"encoding":{"x":{"field":"d","type":"temporal","axis":null},"y":{"field":"l","type":"quantitative"}}},
 {"data":{"name":"cdl"},"mark":{"type":"rule","strokeWidth":1},"encoding":{"x":{"field":"d","type":"temporal","axis":null},"y":{"field":"l","type":"quantitative"},"y2":{"field":"h"},"color":{"condition":{"test":"datum.c >= datum.o","value":"#008c00"},"value":"#ff0000"}}},
 {"data":{"name":"cdl"},"mark":{"type":"bar","size":2},"encoding":{"x":{"field":"d","type":"temporal","axis":null},"y":{"field":"o","type":"quantitative"},"y2":{"field":"c"},"color":{"condition":{"test":"datum.c >= datum.o","value":"#008c00"},"value":"#ff0000"}}},
 {"data":{"values":[{"p":3000},{"p":4000},{"p":5000},{"p":6000},{"p":7000},{"p":8000},{"p":9000},{"p":10000},{"p":11000},{"p":12000},{"p":13000},{"p":14000}]},"mark":{"type":"text","align":"right","baseline":"middle"},"encoding":{"x":{"datum":{"year":2025,"month":11,"date":24,"utc":true},"type":"temporal","axis":null},"y":{"field":"p","type":"quantitative"},"text":{"field":"p","type":"quantitative","format":"d"}}},
 {"data":{"values":[{"d":"2025-06-24","d2":"2025-09-19","y":12560,"y2":11560}]},"mark":{"type":"rect","filled":false,"color":"#0000ff","strokeWidth":3},"encoding":{"x":{"field":"d","type":"temporal","axis":null},"x2":{"field":"d2"},"y":{"field":"y","type":"quantitative"},"y2":{"field":"y2"}}},
 {"data":{"values":[{"d":"2025-10-04","d2":"2025-11-25","y":12790,"y2":12210}]},"mark":{"type":"rect","color":"#000000"},"encoding":{"x":{"field":"d","type":"temporal","axis":null},"x2":{"field":"d2"},"y":{"field":"y","type":"quantitative"},"y2":{"field":"y2"}}},
 {"data":{"values":[{"d":"2025-10-05","y":12500,"t":"125000.0"}]},"mark":{"type":"text","color":"#ffffff","align":"left","baseline":"middle","fontSize":11.5,"limit":48,"ellipsis":""},"encoding":{"x":{"field":"d","type":"temporal","axis":null},"y":{"field":"y","type":"quantitative"},"text":{"field":"t"}}},
 {"data":{"values":[{"d":"2025-10-06","d2":"2025-10-27","y":3030,"y2":2600}]},"mark":{"type":"rect","fill":"#ffffff","stroke":"#000000","strokeWidth":1},"encoding":{"x":{"field":"d","type":"temporal","axis":null},"x2":{"field":"d2"},"y":{"field":"y","type":"quantitative"},"y2":{"field":"y2"}}},
 {"data":{"values":[{"d":"2025-10-16","y":2815,"t":"x10"}]},"mark":{"type":"text","align":"center","baseline":"middle","fontSize":11},"encoding":{"x":{"field":"d","type":"temporal","axis":null},"y":{"field":"y","type":"quantitative"},"text":{"field":"t"}}}
]},
{"width":557,"height":120,"layer":[
 {"data":{"name":"cdl"},"mark":{"type":"bar","size":3.3,"color":"#009100"},"encoding":{"x":{"field":"d","type":"temporal","scale":{"type":"utc","domain":[{"year":2024,"month":2,"date":7,"utc":true},{"year":2025,"month":9,"date":27,"utc":true}]},"axis":{"orient":"bottom","title":null,"values":[{"year":2024,"month":3,"date":1,"utc":true},{"year":2024,"month":4,"date":1,"utc":true},{"year":2024,"month":5,"date":1,"utc":true},{"year":2024,"month":6,"date":1,"utc":true},{"year":2024,"month":7,"date":1,"utc":true},{"year":2024,"month":8,"date":1,"utc":true},{"year":2024,"month":9,"date":1,"utc":true},{"year":2024,"month":10,"date":1,"utc":true},{"year":2024,"month":11,"date":1,"utc":true},{"year":2024,"month":12,"date":1,"utc":true},{"year":2025,"month":1,"date":1,"utc":true},{"year":2025,"month":3,"date":1,"utc":true},{"year":2025,"month":4,"date":1,"utc":true},{"year":2025,"month":5,"date":1,"utc":true},{"year":2025,"month":6,"date":1,"utc":true},{"year":2025,"month":7,"date":1,"utc":true},{"year":2025,"month":8,"date":1,"utc":true},{"year":2025,"month":9,"date":1,"utc":true}],"tickSize":16,"labels":false}},"y":{"field":"v","type":"quantitative","scale":{"domain":[-1705,32386],"nice":false,"zero":false},"axis":{"orient":"right","title":null,"values":[0,2500,5000,7500,10000,12500,15000,17500,20000,22500,25000,27500,30000],"tickSize":{"condition":{"test":"datum.value % 5000 == 0","value":9},"value":5},"labels":false}}}},
 {"data":{"name":"vma"},"mark":{"type":"line","color":"#ff0000","strokeWidth":3,"strokeJoin":"round"},"encoding":{"x":{"field":"d","type":"temporal"},"y":{"field":"a","type":"quantitative"}}},
 {"data":{"values":[{"p":0},{"p":5000},{"p":10000},{"p":15000},{"p":20000},{"p":25000}]},"mark":{"type":"text","align":"right","baseline":"middle"},"encoding":{"x":{"datum":{"year":2025,"month":11,"date":24,"utc":true},"type":"temporal"},"y":{"field":"p","type":"quantitative"},"text":{"field":"p","type":"quantitative","format":"d"}}},
 {"data":{"name":"months"},"mark":{"type":"text","align":"left","baseline":"middle","dx":2},"encoding":{"x":{"field":"d","type":"temporal"},"y":{"datum":-4300,"type":"quantitative"},"text":{"field":"t"}}},
 {"data":{"values":[{"d":"2025-10-06","d2":"2025-11-08","y":2500,"y2":-1500}]},"mark":{"type":"rect","fill":"#ffffff","stroke":"#000000","strokeWidth":1},"encoding":{"x":{"field":"d","type":"temporal"},"x2":{"field":"d2"},"y":{"field":"y","type":"quantitative"},"y2":{"field":"y2"}}},
 {"data":{"values":[{"d":"2025-10-22","y":500,"t":"x1000"}]},"mark":{"type":"text","align":"center","baseline":"middle","fontSize":11},"encoding":{"x":{"field":"d","type":"temporal"},"y":{"field":"y","type":"quantitative"},"text":{"field":"t"}}}
]}
]
}
